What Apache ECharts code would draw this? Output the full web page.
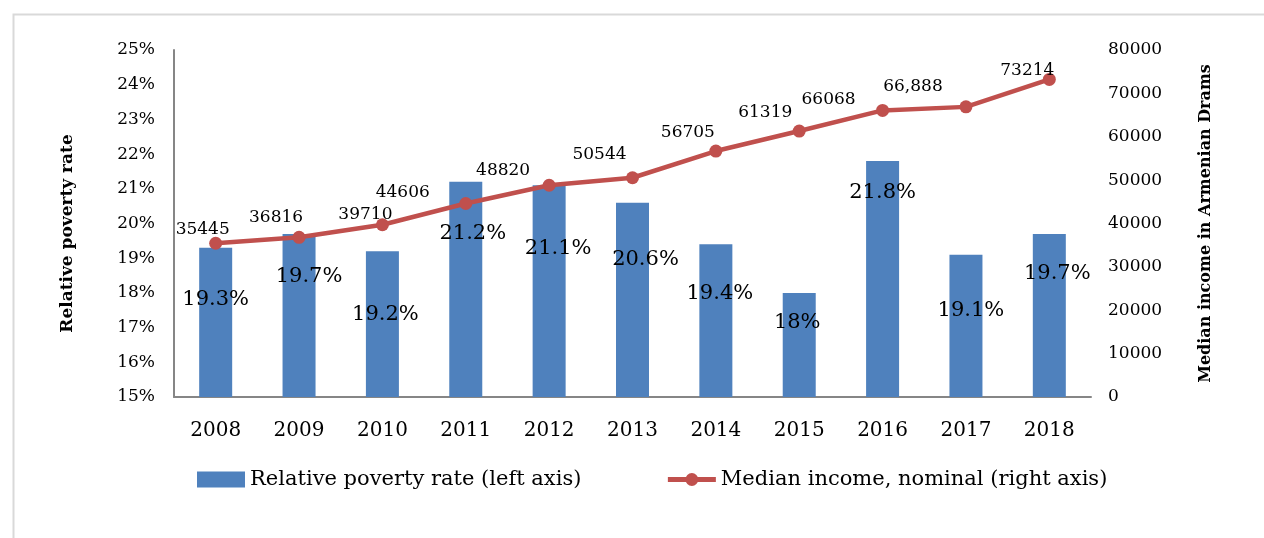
<!DOCTYPE html>
<html>
<head>
<meta charset="utf-8">
<script src="https://cdn.jsdelivr.net/npm/echarts@6/dist/echarts.min.js"></script>
<style>
    html, body { margin: 0; padding: 0; background: #fff; }
    #chart { width: 1264px; height: 538px; }
</style>
</head>
<body>
<div id="chart"></div>
<script>
var years = ['2008', '2009', '2010', '2011', '2012', '2013', '2014', '2015', '2016', '2017', '2018'];
var povertyRate = [19.3, 19.7, 19.2, 21.2, 21.1, 20.6, 19.4, 18, 21.8, 19.1, 19.7];
var povertyLabels = ['19.3%', '19.7%', '19.2%', '21.2%', '21.1%', '20.6%', '19.4%', '18%', '21.8%', '19.1%', '19.7%'];
var medianIncome = [35445, 36816, 39710, 44606, 48820, 50544, 56705, 61319, 66068, 66888, 73214];
var incomeLabels = ['35445', '36816', '39710', '44606', '48820', '50544', '56705', '61319', '66068', '66,888', '73214'];

// label nudges (px) as placed by hand in the original
var barLabelShift = [[0, 52], [10, 43], [3, 63], [7, 52], [9, 63], [13, 57], [4, 49], [-2, 30], [0, 32], [5, 56], [8, 40]];
var lineLabelShift = [[-13, -14], [-23, -20], [-17, -10], [-63, -11], [-46, -15], [-33, -23], [-28, -18], [-34, -18], [-54, -11], [-53, -20], [-22, -9]];

var serif = 'DejaVu Serif';

var barData = povertyRate.map(function (v, i) {
    return {
        value: v,
        label: { offset: barLabelShift[i], formatter: povertyLabels[i] }
    };
});
var lineData = medianIncome.map(function (v, i) {
    return {
        value: v,
        label: { offset: lineLabelShift[i], formatter: incomeLabels[i] }
    };
});

var chart = echarts.init(document.getElementById('chart'));
chart.setOption({
    animation: false,
    backgroundColor: '#fff',
    graphic: [{
        type: 'rect',
        left: 11, top: 12,
        shape: { width: 1300, height: 600 },
        style: { fill: 'none', stroke: '#D9D9D9', lineWidth: 2 },
        silent: true
    }],
    grid: { left: 174, right: 173, top: 50, bottom: 141 },
    legend: {
        left: 192, top: 464,
        itemWidth: 48, itemHeight: 16, itemGap: 84,
        textStyle: { fontFamily: serif, fontSize: 21, color: '#000' },
        data: [
            { name: 'Relative poverty rate (left axis)', icon: 'rect' },
            { name: 'Median income, nominal (right axis)', lineStyle: { width: 5 } }
        ]
    },
    xAxis: {
        type: 'category',
        data: years,
        axisLine: { lineStyle: { color: '#868686', width: 2 } },
        axisTick: { show: false },
        axisLabel: { fontFamily: serif, fontSize: 20, color: '#000', margin: 24 }
    },
    yAxis: [{
        type: 'value',
        min: 15, max: 25, interval: 1,
        name: 'Relative poverty rate',
        nameLocation: 'middle',
        nameGap: 98,
        nameTextStyle: {
            fontFamily: serif, fontWeight: 'bold', fontSize: 17, color: '#000',
            padding: [0, 20, 0, 0]
        },
        axisLine: { show: true, lineStyle: { color: '#868686', width: 2 } },
        axisTick: { show: false },
        splitLine: { show: false },
        axisLabel: { fontFamily: serif, fontSize: 17, color: '#000', margin: 19, formatter: '{value}%' }
    }, {
        type: 'value',
        min: 0, max: 80000, interval: 10000,
        name: 'Median income in Armenian Drams',
        nameLocation: 'middle',
        nameRotate: 90,
        nameGap: 107,
        nameTextStyle: { fontFamily: serif, fontWeight: 'bold', fontSize: 16, color: '#000' },
        axisLine: { show: false },
        axisTick: { show: false },
        splitLine: { show: false },
        axisLabel: {
            fontFamily: serif, fontSize: 17, color: '#000', margin: 17,
            formatter: function (v) { return String(v); }
        }
    }],
    series: [{
        name: 'Relative poverty rate (left axis)',
        type: 'bar',
        yAxisIndex: 0,
        barWidth: 33,
        itemStyle: { color: '#4F81BD' },
        label: {
            show: true,
            position: 'insideTop',
            distance: 0,
            verticalAlign: 'middle',
            fontFamily: serif, fontSize: 21, color: '#000'
        },
        data: barData,
        z: 2
    }, {
        name: 'Median income, nominal (right axis)',
        type: 'line',
        yAxisIndex: 1,
        symbol: 'circle',
        symbolSize: 13,
        lineStyle: { color: '#C0504D', width: 4.5 },
        itemStyle: { color: '#C0504D' },
        label: {
            show: true,
            position: 'inside',
            fontFamily: serif, fontSize: 17, color: '#000'
        },
        data: lineData,
        z: 3
    }]
});
</script>
</body>
</html>
